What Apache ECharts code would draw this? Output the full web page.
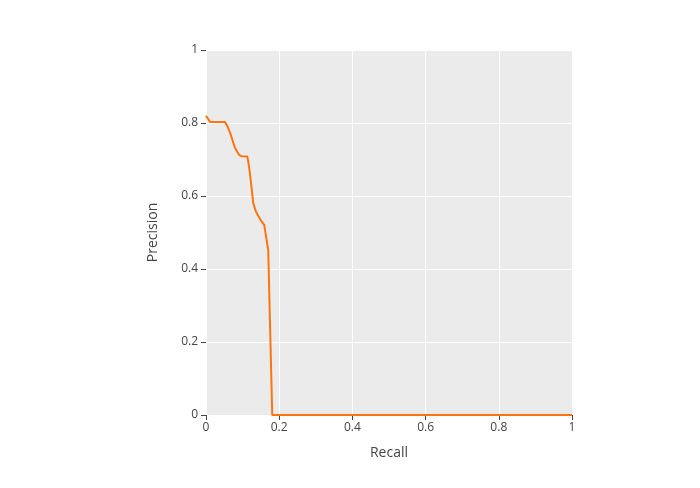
<!DOCTYPE html>
<html><head><meta charset="utf-8">
<script src="https://cdn.jsdelivr.net/npm/echarts@6/dist/echarts.min.js"></script>
<style>html,body{margin:0;padding:0;background:#fff}#c{width:700px;height:488px}</style>
</head><body><div id="c"></div>
<script>
const recall = [0, 0.011, 0.052, 0.058, 0.066, 0.079, 0.086, 0.091, 0.097, 0.102, 0.113, 0.116, 0.120, 0.129, 0.136, 0.143, 0.148, 0.159, 0.170, 0.181, 1];
const precision = [0.82, 0.803, 0.803, 0.792, 0.773, 0.732, 0.72, 0.712, 0.709, 0.708, 0.708, 0.69, 0.663, 0.581, 0.558, 0.545, 0.536, 0.521, 0.452, 0, 0];
const xTitle = 'Recall';
const yTitle = 'Precision';
const chart = echarts.init(document.getElementById('c'));
const font = '"Open Sans", verdana, arial, sans-serif';
chart.setOption({
  animation: false,
  backgroundColor: '#fff',
  grid: {left: 206, right: 128, top: 50, bottom: 73, show: true, backgroundColor: '#ebebeb', borderWidth: 0},
  xAxis: {
    type: 'value', min: 0, max: 1, interval: 0.2,
    name: xTitle, nameLocation: 'middle', nameGap: 31,
    nameTextStyle: {color: '#444', fontSize: 14, fontFamily: font},
    axisLine: {show: false},
    axisTick: {show: true, length: 5, lineStyle: {color: '#444'}},
    axisLabel: {color: '#444', fontSize: 12, fontFamily: font, margin: 7, formatter: v => String(+v.toFixed(1))},
    splitLine: {show: true, lineStyle: {color: '#fff', width: 1}}
  },
  yAxis: {
    type: 'value', min: 0, max: 1, interval: 0.2,
    name: yTitle, nameLocation: 'middle', nameGap: 46,
    nameTextStyle: {color: '#444', fontSize: 14, fontFamily: font},
    axisLine: {show: false},
    axisTick: {show: true, length: 5, lineStyle: {color: '#444'}},
    axisLabel: {color: '#444', fontSize: 12, fontFamily: font, margin: 8, formatter: v => String(+v.toFixed(1))},
    splitLine: {show: true, lineStyle: {color: '#fff', width: 1}}
  },
  series: [{
    type: 'line', data: recall.map((r, i) => [r, precision[i]]),
    showSymbol: false, smooth: false,
    lineStyle: {color: '#ff7410', width: 2}
  }]
});
</script></body></html>
